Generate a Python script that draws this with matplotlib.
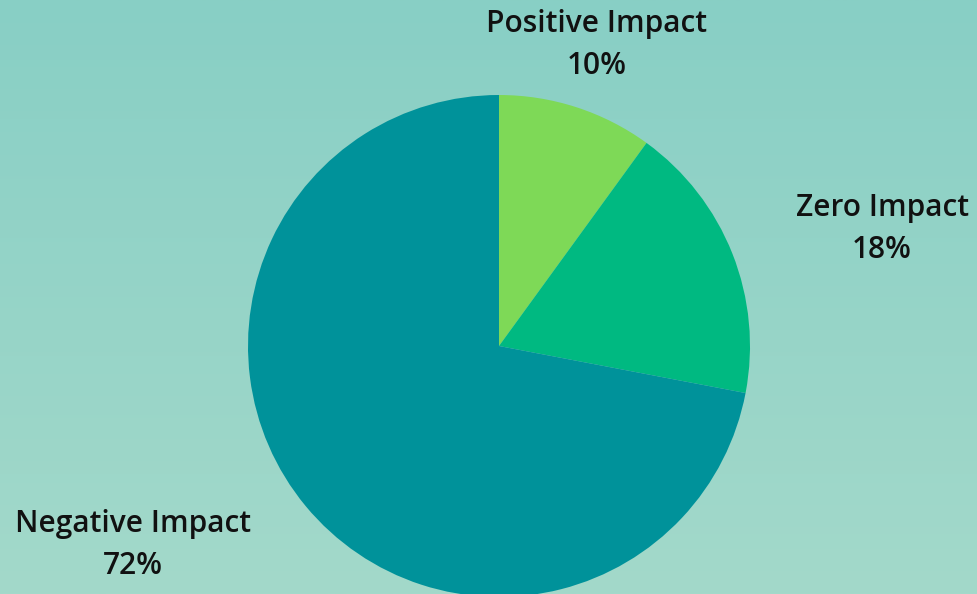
"""
Pie chart of impact shares on a soft teal gradient background.
"""
import numpy as np
import matplotlib
matplotlib.use("Agg")
import matplotlib.pyplot as plt
from matplotlib.colors import LinearSegmentedColormap

categories = ["Positive Impact", "Zero Impact", "Negative Impact"]
shares = [10, 18, 72]
colors = ["#7ED957", "#00B981", "#00929A"]


def main():
    fig = plt.figure(figsize=(9.77, 5.94), dpi=100)

    # background gradient (top -> bottom)
    bg = fig.add_axes([0, 0, 1, 1], zorder=0)
    cmap = LinearSegmentedColormap.from_list("bg", ["#88CFC5", "#A3D9CA"])
    grad = np.linspace(0, 1, 256).reshape(-1, 1)
    bg.imshow(grad, aspect="auto", cmap=cmap, extent=[0, 1, 0, 1], origin="upper")
    bg.axis("off")

    # pixel-space axes for the pie
    ax = fig.add_axes([0, 0, 1, 1], zorder=1)
    ax.patch.set_alpha(0)

    ax.pie(shares, colors=colors, startangle=90, counterclock=False,
           center=(499, 594 - 346), radius=251,
           wedgeprops=dict(linewidth=0), frame=True)
    ax.set_xlim(0, 977)
    ax.set_ylim(0, 594)
    ax.axis("off")

    # labels placed around the pie
    label_pos = [(597, 594 - 45), (882, 594 - 229), (133, 594 - 545)]
    for name, val, (x, y) in zip(categories, shares, label_pos):
        ax.text(x, y, f"{name}\n{val}%", ha="center", va="center",
                fontsize=21.5, fontweight="semibold", family=["Open Sans", "DejaVu Sans"],
                color="#111111", linespacing=1.48)

    fig.savefig("out.png", dpi=100)


if __name__ == "__main__":
    main()
